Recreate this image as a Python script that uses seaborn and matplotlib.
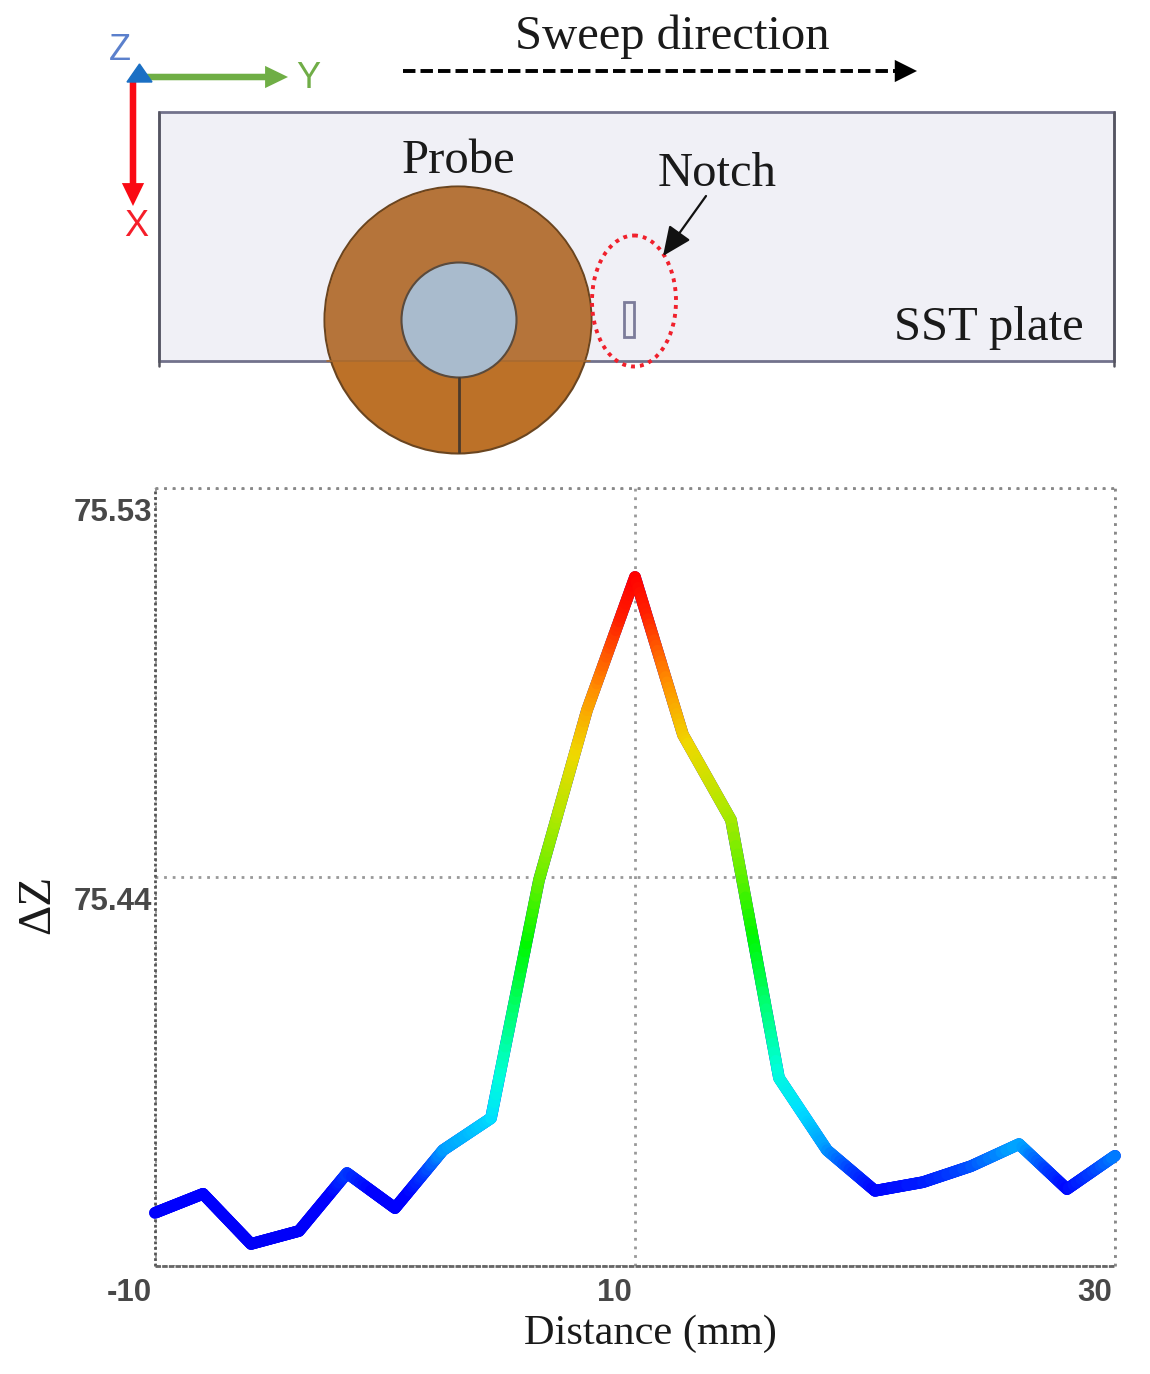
import numpy as np
import pandas as pd
import seaborn as sns
import matplotlib.pyplot as plt
from matplotlib.collections import LineCollection
from matplotlib.colors import LinearSegmentedColormap, Normalize
from matplotlib.patches import Circle, Ellipse, Rectangle, FancyArrowPatch
from matplotlib.transforms import ScaledTranslation

# values
distance = [-10, -8, -6, -4, -2, 0, 2, 4, 6, 8, 10, 12, 14, 16, 18, 20, 22, 24, 26, 28, 30]
delta_z = [75.3623, 75.3667, 75.3551, 75.3581, 75.3715, 75.3634, 75.3768, 75.3842,
           75.4393, 75.4786, 75.5094, 75.4729, 75.4532, 75.3935, 75.3768, 75.3674,
           75.3694, 75.3731, 75.3782, 75.3678, 75.3755]
x_ticks = [-10, 10, 30]
x_tick_labels = ['-10', '10', '30']
y_ticks = [75.35, 75.44, 75.53]
y_tick_labels = ['', '75.44', '75.53']

W, H = 1150, 1374
SERIF = 'Liberation Serif'
LW = 8.4
TRIAD = 'simple,head_length=1.65,head_width=1.6,tail_width=0.47'

sns.set_theme(style='white')
fig = plt.figure(figsize=(W / 100, H / 100), dpi=100)

# main plot
ax = fig.add_axes([155 / W, 1 - 1266 / H, 960 / W, 778 / H])
df = pd.DataFrame({'distance': distance, 'delta_z': delta_z})
sns.lineplot(data=df, x='distance', y='delta_z', ax=ax, color='#0000f5', linewidth=LW, zorder=3, clip_on=False)
ax.set_xlim(-10, 30)
ax.set_ylim(75.35, 75.53)

# jet like colouring along the line, only the colour is graded
jet = LinearSegmentedColormap.from_list('jet_line', [
    (0.00, '#0000f5'), (0.106, '#0000ff'), (0.137, '#0040ff'), (0.17, '#00a0ff'),
    (0.22, '#00e0ff'), (0.28, '#00ffd8'), (0.375, '#00ff70'), (0.47, '#00f800'),
    (0.56, '#60f000'), (0.656, '#b0e800'), (0.75, '#f0d800'), (0.84, '#ff9000'),
    (0.94, '#ff2000'), (1.00, '#ff0000')])
norm = Normalize(75.35, 75.51)
xs, ys = [], []
for i in range(len(distance) - 1):
    xs.extend(np.linspace(distance[i], distance[i + 1], 30, endpoint=False))
    ys.extend(np.linspace(delta_z[i], delta_z[i + 1], 30, endpoint=False))
xs.append(distance[-1])
ys.append(delta_z[-1])
xs, ys = np.array(xs), np.array(ys)
segs = np.stack([np.c_[xs[:-1], ys[:-1]], np.c_[xs[1:], ys[1:]]], axis=1)
lc = LineCollection(segs, cmap=jet, norm=norm, linewidths=LW, capstyle='round', zorder=4, clip_on=False)
lc.set_array((ys[:-1] + ys[1:]) / 2)
ax.add_collection(lc)

ax.set_xticks(x_ticks)
ax.set_xticklabels(x_tick_labels)
ax.set_yticks(y_ticks)
ax.set_yticklabels(y_tick_labels)
ax.grid(True, color='#999999', linestyle=(0, (1, 2.1)), linewidth=2)
for name in ['right', 'top']:
    ax.spines[name].set_color('#888888')
    ax.spines[name].set_linestyle((0, (1, 2.1)))
    ax.spines[name].set_linewidth(2)
ax.spines['bottom'].set_color('#666666')
ax.spines['bottom'].set_linestyle((0, (2, 0.4)))
ax.spines['bottom'].set_linewidth(2)
ax.spines['left'].set_color('#555555')
ax.spines['left'].set_linestyle((0, (1, 1)))
ax.spines['left'].set_linewidth(2)
for name in ax.spines:
    ax.spines[name].set_capstyle('butt')
ax.tick_params(axis='both', length=0, labelcolor='#484848', labelsize=22.5)
ax.tick_params(axis='x', pad=8.5)
ax.tick_params(axis='y', pad=2)
# labels sit off their ticks in the original: left of x ticks, below y ticks
for lab in ax.get_xticklabels():
    lab.set_fontfamily('Liberation Sans')
    lab.set_fontweight('bold')
    lab.set_ha('right')
    lab.set_transform(lab.get_transform() + ScaledTranslation(-3 / 100, 0, fig.dpi_scale_trans))
for lab in ax.get_yticklabels():
    lab.set_fontfamily('Liberation Sans')
    lab.set_fontweight('bold')
    lab.set_transform(lab.get_transform() + ScaledTranslation(0, -21 / 100, fig.dpi_scale_trans))
ax.set_xlabel('')
ax.set_ylabel('')

# top diagram + free text, drawn in pixel coordinates
ov = fig.add_axes([0, 0, 1, 1], facecolor='none')
ov.set_xlim(0, W)
ov.set_ylim(H, 0)
ov.axis('off')

ov.add_patch(Rectangle((159, 112), 955, 249, facecolor='#f0f0f6', edgecolor='#72728c', linewidth=2, zorder=1))
ov.plot([159, 159], [112, 366], color='#555560', linewidth=1.8, zorder=1)
ov.plot([1114, 1114], [112, 366], color='#555560', linewidth=1.8, zorder=1)

ov.add_patch(Circle((458, 320), 133.5, facecolor='#bc7128', edgecolor='#6a4520', linewidth=1.5, zorder=2))
upper = Circle((458, 320), 132.5, facecolor='#b5743a', edgecolor='none', zorder=2.1)
ov.add_patch(upper)
upper.set_clip_path(Rectangle((159, 112), 955, 249, transform=ov.transData))
ov.plot([327, 590], [361, 361], color='#a86a30', linewidth=1.2, zorder=2.2)
ov.add_patch(Circle((459, 320), 57.5, facecolor='#a9bbcd', edgecolor='#5a4a3c', linewidth=1.5, zorder=3))
ov.plot([459, 459], [378, 452], color='#4a3a2c', linewidth=2, zorder=3)

ov.add_patch(Rectangle((624, 302), 10, 35, facecolor='#eeeef4', edgecolor='#7c7c9a', linewidth=2, zorder=3))
ov.add_patch(Ellipse((634, 301), 84, 131, facecolor='none', edgecolor='#f0202c',
                     linewidth=2.8, linestyle=(0, (1, 1.3)), zorder=4))
ov.add_patch(FancyArrowPatch((706, 196), (663, 256), arrowstyle='-|>,head_length=0.9,head_width=0.4',
                             mutation_scale=20, color='#111111', linewidth=1.6, shrinkA=0, shrinkB=0, zorder=5))

# sweep arrow
ov.plot([403, 898], [71, 71], color='black', linewidth=2.8, linestyle=(0, (3.2, 1.3)), zorder=3)
ov.add_patch(FancyArrowPatch((892, 71), (917, 71), arrowstyle='-|>,head_length=0.8,head_width=0.4',
                             mutation_scale=20, color='black', linewidth=0, shrinkA=0, shrinkB=0, zorder=3))

# axis triad
ov.add_patch(FancyArrowPatch((145, 77), (288, 77), arrowstyle=TRIAD, mutation_scale=10,
                             color='#6fae45', linewidth=0, shrinkA=0, shrinkB=0, zorder=3))
ov.add_patch(FancyArrowPatch((133, 80), (133, 206), arrowstyle=TRIAD, mutation_scale=10,
                             color='#fa0a14', linewidth=0, shrinkA=0, shrinkB=0, zorder=3))
ov.fill([127, 152, 139.5], [82, 82, 64], color='#1a6fc4', zorder=4)
ov.text(120, 50, 'Z', color='#5b80cc', fontsize=26, family='Liberation Sans', ha='center', va='center')
ov.text(308, 78, 'Y', color='#70ad47', fontsize=26, family='Liberation Sans', ha='center', va='center')
ov.text(136, 227, 'X', color='#f51e2a', fontsize=26, family='Liberation Sans', ha='center', va='center')

ov.text(672, 37, 'Sweep direction', fontsize=35, family=SERIF, color='#1a1a1a', ha='center', va='center')
ov.text(458, 161, 'Probe', fontsize=35, family=SERIF, color='#1a1a1a', ha='center', va='center')
ov.text(717, 174, 'Notch', fontsize=35, family=SERIF, color='#1a1a1a', ha='center', va='center')
ov.text(989, 328, 'SST plate', fontsize=35, family=SERIF, color='#1a1a1a', ha='center', va='center')
ov.text(650, 1334, 'Distance (mm)', fontsize=30.5, family=SERIF, color='#1a1a1a', ha='center', va='center')
ov.text(38, 904, 'ΔZ', fontsize=34, family=SERIF, color='#1a1a1a', ha='center', va='center', rotation=90)

fig.savefig('out.png', dpi=100)
